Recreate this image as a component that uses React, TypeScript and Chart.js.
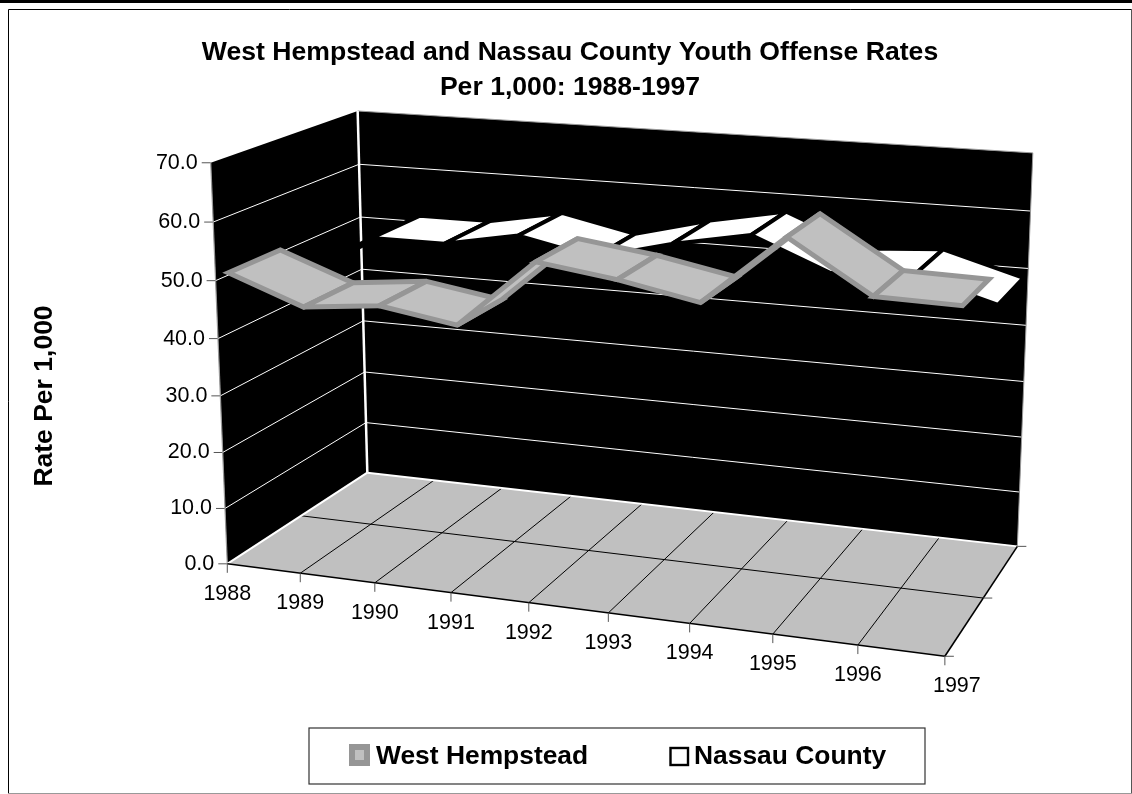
import React, { useEffect, useRef } from "react";
import { Chart, registerables } from "chart.js";

Chart.register(...registerables);

// ---- data ----
const years = ["1988", "1989", "1990", "1991", "1992", "1993", "1994", "1995", "1996", "1997"];
const westHempstead = [50.4, 45.6, 47.0, 44.9, 56.6, 54.8, 52.2, 63.8, 55.5, 55.2];
const nassauCounty = [44.3, 52.0, 52.0, 54.5, 51.7, 55.1, 57.7, 52.2, 53.1, 49.2];
const titleLines = ["West Hempstead and Nassau County Youth Offense Rates", "Per 1,000: 1988-1997"];
const yAxisTitle = "Rate Per 1,000";

// ---- oblique view of the chart box ----
// Known box locations, as [along categories, up values, into depth, screen x, screen y].
const viewAnchors: number[][] = [
  [0, 0, 0, 227, 564], [1, 0, 0, 945, 656], [0, 0, 1, 368, 472], [1, 0, 1, 1018, 544],
  [0, 1, 0, 211, 163], [0, 1, 1, 358, 112], [1, 1, 1, 1033, 155],
  [1 / 9, 0, 0, 300, 573], [2 / 9, 0, 0, 375, 583], [3 / 9, 0, 0, 450, 593], [4 / 9, 0, 0, 529, 603],
  [7 / 9, 0, 0, 773, 634], [8 / 9, 0, 0, 858, 645],
  [1 / 9, 0, 1, 433, 481], [2 / 9, 0, 1, 502, 488], [3 / 9, 0, 1, 571, 497],
  [6 / 9, 0, 1, 787, 521], [7 / 9, 0, 1, 863, 530], [8 / 9, 0, 1, 939, 538],
  [0, 6 / 7, 0, 213, 222], [0, 5 / 7, 0, 214, 281], [0, 2 / 7, 0, 224, 452], [0, 1 / 7, 0, 225, 508],
  [0, 6 / 7, 1, 360, 163], [0, 5 / 7, 1, 360, 217], [0, 4 / 7, 1, 361, 268],
  [1, 6 / 7, 1, 1031, 210], [1, 5 / 7, 1, 1028, 268], [1, 4 / 7, 1, 1026, 325],
  [0, 0, 0.5, 303, 516], [1, 0, 0.5, 983, 598],
];

// Least-squares fit of the 11 camera coefficients.
function fitCamera(anchors: number[][]): number[] {
  const n = 11;
  const A = Array.from({ length: n }, () => new Array(n + 1).fill(0));
  const addRow = (row: number[], rhs: number) => {
    for (let i = 0; i < n; i++) {
      for (let j = 0; j < n; j++) A[i][j] += row[i] * row[j];
      A[i][n] += row[i] * rhs;
    }
  };
  for (const [u, v, w, x, y] of anchors) {
    addRow([u, v, w, 1, 0, 0, 0, 0, -x * u, -x * v, -x * w], x);
    addRow([0, 0, 0, 0, u, v, w, 1, -y * u, -y * v, -y * w], y);
  }
  for (let c = 0; c < n; c++) {
    let p = c;
    for (let r = c + 1; r < n; r++) if (Math.abs(A[r][c]) > Math.abs(A[p][c])) p = r;
    [A[c], A[p]] = [A[p], A[c]];
    for (let r = 0; r < n; r++) {
      if (r === c) continue;
      const f = A[r][c] / A[c][c];
      for (let k = c; k <= n; k++) A[r][k] -= f * A[c][k];
    }
  }
  return A.map((row, i) => row[n] / row[i]);
}

const cam = fitCamera(viewAnchors);
type Pt = [number, number];
const project = (u: number, v: number, w: number): Pt => {
  const d = cam[8] * u + cam[9] * v + cam[10] * w + 1;
  return [
    (cam[0] * u + cam[1] * v + cam[2] * w + cam[3]) / d,
    (cam[4] * u + cam[5] * v + cam[6] * w + cam[7]) / d,
  ];
};

// Depth occupied by each ribbon, front to back.
const ribbonDepth: Record<string, [number, number]> = {
  "West Hempstead": [0.08, 0.42],
  "Nassau County": [0.56, 0.93],
};

const FONT = '"Liberation Sans", Arial, sans-serif';

function poly(ctx: CanvasRenderingContext2D, pts: Pt[], fill?: string, stroke?: string, width = 1) {
  ctx.beginPath();
  pts.forEach((p, i) => (i ? ctx.lineTo(p[0], p[1]) : ctx.moveTo(p[0], p[1])));
  ctx.closePath();
  if (fill) {
    ctx.fillStyle = fill;
    ctx.fill();
  }
  if (stroke) {
    ctx.strokeStyle = stroke;
    ctx.lineWidth = width;
    ctx.stroke();
  }
}

function seg(ctx: CanvasRenderingContext2D, a: Pt, b: Pt, color: string, width = 1) {
  ctx.beginPath();
  ctx.moveTo(a[0], a[1]);
  ctx.lineTo(b[0], b[1]);
  ctx.strokeStyle = color;
  ctx.lineWidth = width;
  ctx.stroke();
}

function label(ctx: CanvasRenderingContext2D, text: string, x: number, y: number, font: string, align: CanvasTextAlign) {
  ctx.font = font;
  ctx.fillStyle = "#000";
  ctx.textAlign = align;
  ctx.textBaseline = "middle";
  ctx.fillText(text, x, y);
}

const boxPlugin = {
  id: "obliqueBox",
  beforeDraw(chart: any) {
    const { ctx, width, height } = chart;
    ctx.save();
    ctx.fillStyle = "#fff";
    ctx.fillRect(0, 0, width, height);
    // Page rule and outer frame.
    ctx.fillStyle = "#000";
    ctx.fillRect(0, 0, width, 3);
    ctx.strokeStyle = "#000";
    ctx.lineWidth = 1;
    ctx.beginPath();
    ctx.moveTo(8.5, 793);
    ctx.lineTo(8.5, 9.5);
    ctx.lineTo(1131.5, 9.5);
    ctx.stroke();
    seg(ctx, [1131.5, 9], [1131.5, 793], "#555");
    seg(ctx, [8, 793.5], [1132, 793.5], "#999");
    ctx.restore();
  },
  beforeDatasetsDraw(chart: any) {
    const { ctx, scales } = chart;
    const yScale = scales.y;
    const xScale = scales.x;
    const toV = (val: number) => (yScale.bottom - yScale.getPixelForValue(val)) / yScale.height;
    const toU = (i: number) => (xScale.getPixelForValue(i) - xScale.left) / xScale.width;
    ctx.save();
    ctx.lineJoin = "miter";

    // Walls.
    poly(ctx, [project(0, 0, 0), project(0, 1, 0), project(0, 1, 1), project(0, 0, 1)], "#000");
    poly(ctx, [project(0, 0, 1), project(0, 1, 1), project(1, 1, 1), project(1, 0, 1)], "#000");

    // Value gridlines on both walls.
    yScale.ticks.forEach((t: any) => {
      const v = toV(t.value);
      if (t.value > 0 && t.value < 70) {
        seg(ctx, project(0, v, 0), project(0, v, 1), "#fff");
        seg(ctx, project(0, v, 1), project(1, v, 1), "#fff");
      }
      const p = project(0, v, 0);
      seg(ctx, [p[0] - 9, p[1]], p, "#555");
      label(ctx, t.value.toFixed(1), p[0] - 13, p[1], `21.5px ${FONT}`, "right");
    });
    seg(ctx, project(0, 0, 0), project(0, 1, 0), "#999", 1.2);
    seg(ctx, project(1, 0, 1), project(1, 1, 1), "#999", 1);
    seg(ctx, project(0, 1, 1), project(1, 1, 1), "#999", 1);
    seg(ctx, project(0, 0, 1), project(0, 1, 1), "#fff", 2.5);

    // Floor with its grid.
    poly(ctx, [project(0, 0, 0), project(1, 0, 0), project(1, 0, 1), project(0, 0, 1)], "#c0c0c0");
    years.forEach((_, i) => {
      if (i > 0 && i < years.length - 1) seg(ctx, project(toU(i), 0, 0), project(toU(i), 0, 1), "#000");
    });
    seg(ctx, project(0, 0, 0.5), project(1, 0, 0.5), "#000");
    seg(ctx, project(0, 0, 0), project(0, 0, 1), "#fff", 2);
    seg(ctx, project(0, 0, 1), project(1, 0, 1), "#fff", 2);
    seg(ctx, project(0, 0, 0), project(1, 0, 0), "#000", 1.6);
    seg(ctx, project(1, 0, 0), project(1, 0, 1), "#000", 1.6);

    // Depth ticks at the right of the floor.
    [0, 0.5, 1].forEach((w) => {
      const p = project(1, 0, w);
      seg(ctx, p, [p[0] + 9, p[1]], "#555");
    });

    // Category ticks and labels.
    years.forEach((year, i) => {
      const p = project(toU(i), 0, 0);
      seg(ctx, p, [p[0], p[1] + 9], "#555");
      const shift = i === years.length - 1 ? 12 : 0;
      label(ctx, year, p[0] + shift, p[1] + 30, `21.5px ${FONT}`, "center");
    });

    // Value axis title.
    ctx.save();
    ctx.translate(45, 396);
    ctx.rotate(-Math.PI / 2);
    label(ctx, yAxisTitle, 0, 0, `bold 26.5px ${FONT}`, "center");
    ctx.restore();

    // Ribbons, rear series first.
    const drawRibbon = (index: number, fill: string, stroke: string, width: number) => {
      const ds = chart.data.datasets[index];
      const [front, back] = ribbonDepth[ds.label];
      ctx.lineJoin = "miter";
      ctx.miterLimit = 3;
      for (let i = 0; i < ds.data.length - 1; i++) {
        const u0 = toU(i);
        const u1 = toU(i + 1);
        const v0 = toV(ds.data[i]);
        const v1 = toV(ds.data[i + 1]);
        poly(
          ctx,
          [project(u0, v0, front), project(u1, v1, front), project(u1, v1, back), project(u0, v0, back)],
          fill,
          stroke,
          width
        );
      }
    };
    drawRibbon(1, "#ffffff", "#000000", 4);
    drawRibbon(0, "#c0c0c0", "#969696", 5);

    // Legend panel.
    ctx.lineJoin = "miter";
    ctx.miterLimit = 10;
    ctx.strokeStyle = "#333";
    ctx.lineWidth = 1.2;
    ctx.strokeRect(309, 728, 616, 56);
    ctx.fillStyle = "#969696";
    ctx.fillRect(349, 744, 21, 22);
    ctx.fillStyle = "#c0c0c0";
    ctx.fillRect(355, 750, 9, 10);
    label(ctx, chart.data.datasets[0].label, 376, 757, `bold 26.4px ${FONT}`, "left");
    ctx.strokeStyle = "#000";
    ctx.lineWidth = 2.4;
    ctx.strokeRect(670.5, 748, 17.5, 17);
    label(ctx, chart.data.datasets[1].label, 694, 757, `bold 26.4px ${FONT}`, "left");
    ctx.restore();
  },
};

export default function App() {
  const ref = useRef<HTMLCanvasElement | null>(null);
  useEffect(() => {
    const chart = new Chart(ref.current as HTMLCanvasElement, {
      type: "line",
      data: {
        labels: years,
        datasets: [
          { label: "West Hempstead", data: westHempstead, showLine: false, pointRadius: 0, borderColor: "#969696", backgroundColor: "#c0c0c0" },
          { label: "Nassau County", data: nassauCounty, showLine: false, pointRadius: 0, borderColor: "#000", backgroundColor: "#fff" },
        ],
      },
      options: {
        responsive: false,
        animation: false,
        events: [],
        layout: { padding: { left: 108, right: 100, top: 0, bottom: 130 } },
        scales: {
          x: { type: "category", display: false, offset: false },
          y: { type: "linear", display: false, min: 0, max: 70, ticks: { stepSize: 10 } },
        },
        plugins: {
          legend: { display: false },
          tooltip: { enabled: false },
          title: {
            display: true,
            text: titleLines,
            color: "#000",
            font: { family: FONT, size: 26.6, weight: "bold", lineHeight: 1.33 },
            padding: { top: 35, bottom: 0 },
          },
        },
      },
      plugins: [boxPlugin],
    } as any);
    return () => chart.destroy();
  }, []);
  return (
    <div style={{ position: "fixed", left: 0, top: 0, width: 1132, height: 794, background: "#fff" }}>
      <canvas ref={ref} width={1132} height={794} style={{ display: "block" }} />
    </div>
  );
}
